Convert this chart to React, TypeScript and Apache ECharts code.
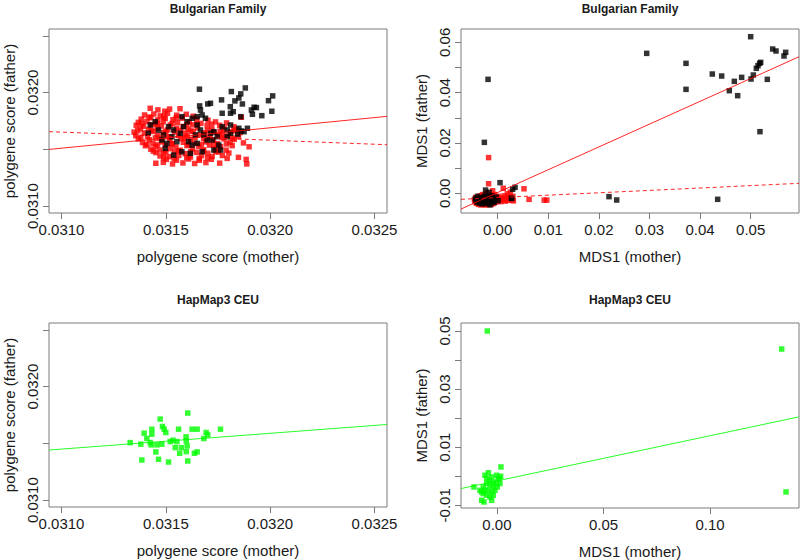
import React, { useEffect, useRef } from 'react';
import * as echarts from 'echarts';

const FONT = '"Liberation Sans", Arial, Helvetica, sans-serif';
const BOX = '#7a7a7a';
const TEXT = '#1a1a1a';

// ---------- Titles and axis names ----------
const TITLES = ['Bulgarian Family', 'Bulgarian Family', 'HapMap3 CEU', 'HapMap3 CEU'];
const X_NAMES = ['polygene score (mother)', 'MDS1 (mother)', 'polygene score (mother)', 'MDS1 (mother)'];
const Y_NAMES = ['polygene score (father)', 'MDS1 (father)', 'polygene score (father)', 'MDS1 (father)'];

// ---------- Polygene score panels (shared axes) ----------
const PS_LIM = [0.031, 0.0325];
const PS_TICKS = [0.031, 0.0315, 0.032, 0.0325];
const PS_X_LABELS = [0.031, 0.0315, 0.032, 0.0325];
const PS_Y_LABELS = [0.031, 0.032];

// Bulgarian family polygene scores (mother, father)
const BG_PS_RED = [
  [0.031425, 0.031862], [0.031462, 0.031848], [0.031518, 0.031855], [0.031568, 0.031858], [0.031495, 0.031836],
  [0.031398, 0.031803], [0.031442, 0.031812], [0.031473, 0.031795], [0.031508, 0.031818], [0.031552, 0.031801], [0.031598, 0.031809], [0.031631, 0.031792], [0.031862, 0.031783],
  [0.03142, 0.031785], [0.03149, 0.031788], [0.03155, 0.03178],
  [0.031382, 0.031766], [0.031428, 0.031778], [0.031461, 0.031759], [0.031497, 0.031772], [0.031534, 0.031762], [0.031579, 0.031775], [0.031648, 0.031768], [0.031702, 0.031757],
  [0.031368, 0.031738], [0.031409, 0.031746], [0.031452, 0.031731], [0.031488, 0.031744], [0.031556, 0.031735], [0.031612, 0.031741], [0.031668, 0.031729], [0.031738, 0.031742], [0.031791, 0.031733],
  [0.031385, 0.031725], [0.03146, 0.031722], [0.03153, 0.031728], [0.0316, 0.03172], [0.03165, 0.031725], [0.03172, 0.031722],
  [0.031358, 0.031712], [0.031393, 0.031703], [0.031432, 0.031718], [0.031479, 0.031706], [0.031521, 0.031714], [0.031583, 0.031701], [0.031629, 0.031716], [0.031698, 0.031708], [0.031758, 0.031712], [0.031826, 0.0317],
  [0.031378, 0.031681], [0.031418, 0.031676], [0.031458, 0.031688], [0.031509, 0.031672], [0.031551, 0.031684], [0.031607, 0.031677], [0.031652, 0.031689], [0.031721, 0.031674], [0.031779, 0.031686], [0.031838, 0.031678],
  [0.031365, 0.031665], [0.03143, 0.031668], [0.0315, 0.03166], [0.03157, 0.031668], [0.03162, 0.031662], [0.0317, 0.031668], [0.03176, 0.03166], [0.03183, 0.031665],
  [0.031348, 0.031652], [0.031397, 0.031645], [0.031441, 0.031657], [0.031489, 0.031648], [0.031542, 0.031654], [0.031593, 0.031643], [0.031631, 0.031658], [0.031684, 0.031647], [0.031731, 0.031652], [0.031772, 0.031644], [0.031812, 0.031655], [0.031856, 0.031649],
  [0.031356, 0.031621], [0.031412, 0.031615], [0.031462, 0.031626], [0.031503, 0.031611], [0.031561, 0.031623], [0.031602, 0.031617], [0.031662, 0.031628], [0.031712, 0.031613], [0.031751, 0.031624], [0.031798, 0.031618], [0.031848, 0.031612],
  [0.03138, 0.031605], [0.03145, 0.0316], [0.03152, 0.031608], [0.03159, 0.0316], [0.03164, 0.031606], [0.0317, 0.0316], [0.03177, 0.031606], [0.03182, 0.0316],
  [0.031368, 0.031592], [0.031421, 0.031585], [0.031472, 0.031596], [0.031519, 0.031583], [0.031572, 0.031594], [0.031618, 0.031587], [0.031681, 0.031598], [0.031728, 0.031582], [0.031779, 0.031593], [0.031828, 0.031588],
  [0.031388, 0.031561], [0.031438, 0.031554], [0.031482, 0.031566], [0.031529, 0.031552], [0.031584, 0.031563], [0.031639, 0.031557], [0.031692, 0.031566], [0.031748, 0.031551], [0.031808, 0.031562], [0.031872, 0.031557],
  [0.03141, 0.031545], [0.03146, 0.03154], [0.03153, 0.031548], [0.03161, 0.03154], [0.03167, 0.031545], [0.03173, 0.03154], [0.03179, 0.031548],
  [0.031402, 0.031532], [0.031451, 0.031525], [0.031498, 0.031536], [0.031548, 0.031522], [0.031601, 0.031534], [0.031658, 0.031527], [0.031709, 0.031538], [0.031762, 0.031524], [0.031818, 0.031533], [0.031899, 0.031523],
  [0.031428, 0.031502], [0.031472, 0.031494], [0.031521, 0.031506], [0.031569, 0.031492], [0.031628, 0.031504], [0.031681, 0.031497], [0.031738, 0.031505], [0.031789, 0.031493],
  [0.03144, 0.031485], [0.0315, 0.03148], [0.03156, 0.031488], [0.03162, 0.03148], [0.03168, 0.031485], [0.03174, 0.03148],
  [0.031452, 0.031472], [0.031491, 0.031465], [0.031542, 0.031476], [0.031592, 0.031463], [0.031648, 0.031474], [0.031701, 0.031466], [0.031752, 0.031477], [0.031802, 0.031468],
  [0.031472, 0.031442], [0.031518, 0.031436], [0.031562, 0.031447], [0.031618, 0.031433], [0.031671, 0.031445], [0.031722, 0.031438], [0.031771, 0.031446], [0.031794, 0.031421], [0.031848, 0.03143],
  [0.03149, 0.031425], [0.03154, 0.03142], [0.0316, 0.031428], [0.03166, 0.03142], [0.0317, 0.031425],
  [0.031502, 0.031412], [0.031551, 0.031405], [0.031609, 0.031416], [0.031661, 0.031404], [0.031718, 0.031413], [0.031885, 0.031412],
  [0.031452, 0.031378], [0.031488, 0.031386], [0.031532, 0.031372], [0.031582, 0.031381], [0.031638, 0.031376], [0.031692, 0.031384], [0.031758, 0.031379], [0.031888, 0.031372],
];

const BG_PS_BLACK = [
  [0.031661, 0.03203], [0.031814, 0.032009], [0.031881, 0.032041], [0.031859, 0.031989], [0.03185, 0.031953],
  [0.031831, 0.031927], [0.031867, 0.0319], [0.031809, 0.031876], [0.031823, 0.031832], [0.031767, 0.031936],
  [0.031714, 0.031906], [0.031701, 0.0319], [0.031662, 0.031883], [0.031666, 0.031847], [0.031923, 0.031871],
  [0.031934, 0.031868], [0.03191, 0.031847], [0.031915, 0.031809], [0.03196, 0.031797], [0.031992, 0.031929],
  [0.032012, 0.031971], [0.032008, 0.031836], [0.031891, 0.031686], [0.031862, 0.031662], [0.031844, 0.031635],
  [0.031425, 0.031715], [0.031449, 0.031744], [0.031416, 0.031642], [0.031465, 0.031671], [0.031489, 0.031627],
  [0.031481, 0.031583], [0.031513, 0.0317], [0.031537, 0.031671], [0.031529, 0.031612], [0.031553, 0.031568],
  [0.031505, 0.031553], [0.031569, 0.031642], [0.031585, 0.0317], [0.031602, 0.031744], [0.031577, 0.031788],
  [0.031626, 0.031774], [0.03165, 0.031788], [0.031674, 0.031803], [0.03169, 0.031774], [0.03165, 0.031715],
  [0.031666, 0.031671], [0.031642, 0.031627], [0.031682, 0.031627], [0.031714, 0.031642], [0.03173, 0.031656],
  [0.031698, 0.031583], [0.031722, 0.031583], [0.031746, 0.031612], [0.031754, 0.031538], [0.031762, 0.031494],
  [0.03173, 0.031494], [0.031674, 0.031479], [0.031617, 0.031465], [0.031577, 0.031479], [0.031537, 0.03145],
  [0.031497, 0.031509], [0.031609, 0.031568], [0.031626, 0.031538], [0.03165, 0.031553], [0.03177, 0.0317],
  [0.031794, 0.031671], [0.031794, 0.031612], [0.03181, 0.031642], [0.03177, 0.031818], [0.03181, 0.031818],
  [0.031859, 0.031788], [0.03185, 0.031686], [0.031875, 0.031656], [0.03181, 0.031715],
];
const BG_PS_FIT_SOLID = { intercept: 0.025943, slope: 0.1796 };
const BG_PS_FIT_DASHED = { intercept: 0.033853, slope: -0.071 };

// HapMap3 CEU polygene scores (mother, father)
const CEU_PS_GREEN = [
  [0.031329, 0.031507], [0.03138, 0.031493], [0.031385, 0.031354], [0.031396, 0.03159], [0.031409, 0.031543],
  [0.031425, 0.031507], [0.031433, 0.031625], [0.031433, 0.031581], [0.03143, 0.031487], [0.031452, 0.031425],
  [0.031457, 0.031487], [0.031465, 0.03136], [0.031473, 0.031714], [0.031481, 0.031493], [0.031484, 0.031649],
  [0.031492, 0.031625], [0.0315, 0.031596], [0.031513, 0.031336], [0.031521, 0.031516], [0.031534, 0.031528],
  [0.031545, 0.031463], [0.031553, 0.031516], [0.031561, 0.031625], [0.031566, 0.031413], [0.031574, 0.031463],
  [0.031597, 0.031558], [0.031598, 0.031522], [0.031602, 0.031478], [0.031598, 0.031428], [0.031605, 0.031345],
  [0.031605, 0.031767], [0.031626, 0.031625], [0.03165, 0.031625], [0.031637, 0.031413], [0.03165, 0.031425],
  [0.031682, 0.031543], [0.031693, 0.031596], [0.031701, 0.031575], [0.031762, 0.031625],
];
const CEU_PS_FIT = { intercept: 0.027144, slope: 0.1389 };

// ---------- MDS1 panels ----------
const BG_MDS_RANGE_X = [-0.00478, 0.05708];
const BG_MDS_RANGE_Y = [-0.00511, 0.0626];
const BG_MDS_X_TICKS = [0, 0.01, 0.02, 0.03, 0.04, 0.05];
const BG_MDS_X_LABELS = [0, 0.01, 0.02, 0.03, 0.04, 0.05];
const BG_MDS_Y_TICKS = [0, 0.01, 0.02, 0.03, 0.04, 0.05, 0.06];
const BG_MDS_Y_LABELS = [0, 0.02, 0.04, 0.06];

const BG_MDS_RED = [
  [-0.0046, -0.0025], [-0.0045, -0.0033], [-0.0043, -0.0016], [-0.0042, -0.004], [-0.0039, -0.0029],
  [-0.0038, -0.0044], [-0.0035, -0.001], [-0.0033, -0.0046], [-0.003, -0.0005], [-0.0028, -0.0043],
  [-0.0025, -0.0046], [-0.0022, 0.0002], [-0.002, -0.0045], [-0.0018, 0.0038], [-0.0018, 0.0142],
  [-0.0015, -0.0008], [-0.0012, -0.0044], [-0.001, 0.001], [-0.0008, -0.004], [-0.0006, -0.0005],
  [-0.0004, -0.0035], [-0.0002, -0.002], [0.0, -0.003], [0.0002, -0.0012], [0.0004, -0.0025],
  [0.0006, -0.0033], [0.0008, -0.0018], [0.0011, 0.002], [0.0011, -0.0026], [0.0013, -0.001],
  [0.0015, -0.0031], [0.0017, -0.002], [0.0019, -0.0002], [0.0021, -0.0028], [0.0023, -0.0015],
  [0.0025, 0.0005], [0.0028, -0.0025], [0.0031, -0.003], [0.003, -0.0012], [0.0052, 0.0018],
  [0.0062, -0.0024], [0.0092, -0.0027], [0.0097, -0.0027],
];
const BG_MDS_BLACK = [
  [0.05, 0.06225], [0.02945, 0.05563], [0.03722, 0.05166], [0.03722, 0.04132], [0.04242, 0.04742],
  [0.04427, 0.04662], [0.04578, 0.04079], [0.04677, 0.0445], [0.04743, 0.03881], [0.04822, 0.04609],
  [0.05007, 0.04543], [0.05053, 0.04702], [0.05112, 0.04967], [0.05145, 0.05073], [0.05178, 0.05166],
  [0.05198, 0.05205], [0.05184, 0.0245], [0.05329, 0.0453], [0.05435, 0.05735], [0.05501, 0.05656],
  [0.05659, 0.05457], [0.05692, 0.05603], [0.04348, -0.00238], [0.022, -0.00132], [0.02352, -0.00265],
  [-0.00191, 0.0453], [-0.00264, 0.02026], [0.00046, 0.00424], [0.00343, 0.00238], [0.00296, 0.00159],
  [0.00277, -0.00199], [-0.0024, 0.0013],
  [-0.0044, -0.002], [-0.0043, -0.0028], [-0.0041, -0.0035], [-0.004, -0.0012], [-0.0038, -0.0024],
  [-0.0037, -0.0031], [-0.0036, -0.0039], [-0.0034, -0.0018], [-0.0033, -0.0027], [-0.0032, -0.0034],
  [-0.0031, -0.0042], [-0.003, -0.0022], [-0.0029, -0.003], [-0.0028, -0.0015], [-0.0027, -0.0037],
  [-0.0026, -0.0025], [-0.0025, -0.0008], [-0.0024, -0.0033], [-0.0023, -0.0019], [-0.0022, -0.0041],
  [-0.0021, -0.0028], [-0.002, -0.0012], [-0.0019, -0.0035], [-0.0018, -0.0022], [-0.0017, 0.0004],
  [-0.0016, -0.003], [-0.0015, -0.0046], [-0.0014, -0.0017], [-0.0013, -0.0038], [-0.0012, -0.0026],
  [-0.0011, -0.001], [-0.001, -0.0032], [-0.0008, -0.0021], [-0.0007, -0.0036], [-0.0005, -0.0027],
  [-0.0003, -0.0015], [0.0001, -0.0029], [0.0027, -0.002],
];
const BG_MDS_FIT_SOLID = { intercept: 0.00033, slope: 0.9058 };
const BG_MDS_FIT_DASHED = { intercept: -0.00169, slope: 0.0951 };

const CEU_MDS_RANGE_X = [-0.011, 0.1359];
const CEU_MDS_RANGE_Y = [-0.00857, 0.0504];
const CEU_MDS_X_TICKS = [0, 0.05, 0.1];
const CEU_MDS_X_LABELS = [0, 0.05, 0.1];
const CEU_MDS_Y_TICKS = [-0.01, 0, 0.01, 0.02, 0.03, 0.04, 0.05];
const CEU_MDS_Y_LABELS = [-0.01, 0.01, 0.03, 0.05];

const CEU_MDS_GREEN = [
  [-0.00454, 0.05], [0.13365, 0.04379], [0.13568, -0.0054], [-0.0108, -0.00369], [0.00188, 0.00321],
  [-0.00563, 0.00034], [-0.00484, -0.00079], [-0.00249, -0.00024], [-0.00174, -0.00197], [-0.00014, 0.00034],
  [0.0006, -0.00079], [-0.00047, -0.00252], [-0.00174, -0.00369], [-0.00329, -0.0031], [-0.00408, -0.00483],
  [-0.00563, -0.00483], [-0.00718, -0.00541], [-0.00798, -0.00483], [-0.00643, -0.00597], [-0.00484, -0.00655],
  [-0.00329, -0.00714], [-0.00174, -0.00655], [-0.00249, -0.00541], [-0.00718, -0.00828], [-0.0061, -0.00886],
  [-0.00249, -0.00828], [-0.00094, -0.00483], [0.00014, -0.00369], [0.00141, -0.00252], [0.00108, -0.00079],
  [0.00174, 0.0], [-0.00484, -0.00252], [-0.00643, -0.00369], [-0.004, 0.0012], [-0.0035, -0.0015],
];
const CEU_MDS_FIT = { intercept: -0.00161, slope: 0.1556 };

// ---------- helpers ----------
const pad = (r: number[]) => {
  const d = (r[1] - r[0]) * 0.04;
  return [r[0] - d, r[1] + d];
};
const fitLine = (f: { intercept: number; slope: number }, xr: number[]) => [
  [xr[0], f.intercept + f.slope * xr[0]],
  [xr[1], f.intercept + f.slope * xr[1]],
];

const GRIDS = [
  { left: 49, top: 29, width: 338, height: 184 },
  { left: 461, top: 29, width: 338, height: 184 },
  { left: 49, top: 323, width: 338, height: 184 },
  { left: 461, top: 323, width: 338, height: 185 },
];

function xAx(i: number, r: number[], ticks: number[], labels: number[], dec: number) {
  return {
    type: 'value', gridIndex: i, min: r[0], max: r[1], scale: true,
    name: X_NAMES[i], nameLocation: 'middle', nameGap: 36,
    nameTextStyle: { fontFamily: FONT, fontSize: 15, color: TEXT },
    axisLine: { show: false, onZero: false },
    axisTick: { show: true, inside: false, length: 6, customValues: ticks, lineStyle: { color: BOX } },
    axisLabel: { customValues: labels, formatter: (v: number) => v.toFixed(dec), margin: 9, fontSize: 15, fontFamily: FONT, color: TEXT, showMinLabel: true, showMaxLabel: true },
    splitLine: { show: false },
  };
}
function yAx(i: number, r: number[], ticks: number[], labels: number[], dec: number) {
  return {
    type: 'value', gridIndex: i, min: r[0], max: r[1], scale: true,
    name: Y_NAMES[i], nameLocation: 'middle', nameGap: 32, nameRotate: 90,
    nameTextStyle: { fontFamily: FONT, fontSize: 15, color: TEXT },
    axisLine: { show: false, onZero: false },
    axisTick: { show: true, inside: false, length: 6, customValues: ticks, lineStyle: { color: BOX } },
    axisLabel: { customValues: labels, formatter: (v: number) => v.toFixed(dec), rotate: 90, margin: 9, fontSize: 15, fontFamily: FONT, color: TEXT, showMinLabel: true, showMaxLabel: true },
    splitLine: { show: false },
  };
}

const SYM = 5.5;
function pts(i: number, data: number[][], color: string) {
  return { type: 'scatter', xAxisIndex: i, yAxisIndex: i, data, symbol: 'rect', symbolSize: SYM, itemStyle: { color }, silent: true };
}
function ln(i: number, data: number[][], color: string, dashed: boolean) {
  return {
    type: 'line', xAxisIndex: i, yAxisIndex: i, data, showSymbol: false, symbol: 'none', silent: true,
    lineStyle: { color, width: 1, type: dashed ? [4, 3] : 'solid', opacity: 0.85 }, z: 3,
  };
}

export default function App() {
  const ref = useRef<HTMLDivElement>(null);
  useEffect(() => {
    if (!ref.current) return;
    const chart = echarts.init(ref.current, undefined, { renderer: 'svg' });
    const psR = pad(PS_LIM);
    const bgX = pad(BG_MDS_RANGE_X);
    const bgY = pad(BG_MDS_RANGE_Y);
    const ceX = pad(CEU_MDS_RANGE_X);
    const ceY = pad(CEU_MDS_RANGE_Y);
    const titleX = [218, 630, 218, 630];
    const titleY = [9, 9, 300, 300];
    chart.setOption({
      animation: false,
      backgroundColor: '#ffffff',
      grid: GRIDS.map((g) => ({ ...g, show: true, borderColor: BOX, borderWidth: 1, backgroundColor: 'transparent', containLabel: false, outerBoundsMode: 'none' })),
      xAxis: [
        xAx(0, psR, PS_TICKS, PS_X_LABELS, 4),
        xAx(1, bgX, BG_MDS_X_TICKS, BG_MDS_X_LABELS, 2),
        xAx(2, psR, PS_TICKS, PS_X_LABELS, 4),
        xAx(3, ceX, CEU_MDS_X_TICKS, CEU_MDS_X_LABELS, 2),
      ],
      yAxis: [
        yAx(0, psR, PS_TICKS, PS_Y_LABELS, 4),
        yAx(1, bgY, BG_MDS_Y_TICKS, BG_MDS_Y_LABELS, 2),
        yAx(2, psR, PS_TICKS, PS_Y_LABELS, 4),
        yAx(3, ceY, CEU_MDS_Y_TICKS, CEU_MDS_Y_LABELS, 2),
      ],
      graphic: TITLES.map((t, i) => ({
        type: 'text', x: titleX[i], y: titleY[i], silent: true,
        style: { text: t, fill: TEXT, font: `bold 12px ${FONT}`, align: 'center', verticalAlign: 'middle', textAlign: 'center', textVerticalAlign: 'middle' },
      })),
      series: [
        pts(0, BG_PS_RED, '#ff0000'),
        pts(0, BG_PS_BLACK, '#000000'),
        ln(0, fitLine(BG_PS_FIT_SOLID, psR), '#ff0000', false),
        ln(0, fitLine(BG_PS_FIT_DASHED, psR), '#ff0000', true),
        pts(1, BG_MDS_RED, '#ff0000'),
        pts(1, BG_MDS_BLACK, '#000000'),
        ln(1, fitLine(BG_MDS_FIT_SOLID, bgX), '#ff0000', false),
        ln(1, fitLine(BG_MDS_FIT_DASHED, bgX), '#ff0000', true),
        pts(2, CEU_PS_GREEN, '#00ff00'),
        ln(2, fitLine(CEU_PS_FIT, psR), '#00ff00', false),
        pts(3, CEU_MDS_GREEN, '#00ff00'),
        ln(3, fitLine(CEU_MDS_FIT, ceX), '#00ff00', false),
      ],
    });
    return () => chart.dispose();
  }, []);
  return <div ref={ref} style={{ position: 'fixed', left: 0, top: 0, width: 800, height: 560, background: '#fff' }} />;
}
